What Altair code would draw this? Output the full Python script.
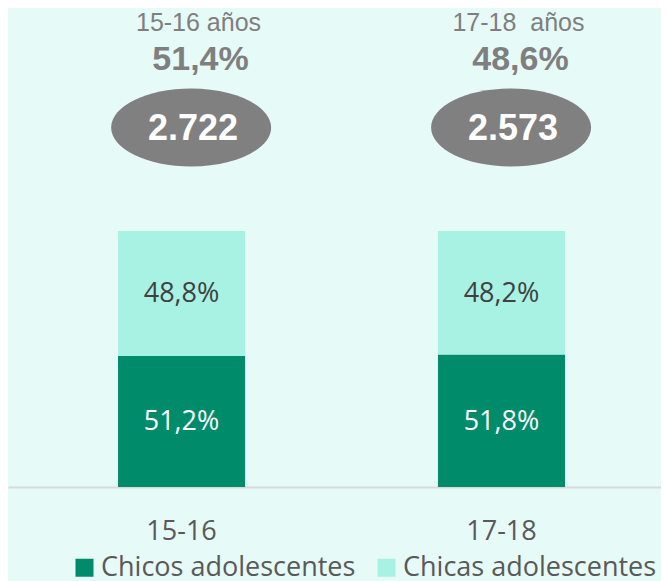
import altair as alt
import pandas as pd

# ---- data ----
groups = ["15-16", "17-18"]
series = ["Chicos adolescentes", "Chicas adolescentes"]
chicos = [51.2, 51.8]
chicas = [48.8, 48.2]
age_labels = ["15-16 años", "17-18 \u00a0años"]
share_labels = ["51,4%", "48,6%"]
total_labels = ["2.722", "2.573"]

# ---- styling ----
BG = "#E6FAF7"
DARK = "#008B6B"
LIGHT = "#A8F2E4"
GRAY = "#7F7F7F"
BODY_FONT = "Open Sans"

rows = []
for g, a, b in zip(groups, chicos, chicas):
    rows.append({"grupo": g, "serie": series[0], "valor": a, "orden": 0})
    rows.append({"grupo": g, "serie": series[1], "valor": b, "orden": 1})
bars_df = pd.DataFrame(rows)
bars_df["etiqueta"] = bars_df["valor"].map(lambda v: f"{v:.1f}".replace(".", ",") + "%")

ann_df = pd.DataFrame({"grupo": groups, "edad": age_labels,
                       "porc": share_labels, "total": total_labels})

x_scale = alt.Scale(domain=groups, paddingInner=0.603, paddingOuter=0.322, align=0.534)
y_scale = alt.Scale(domain=[0, 187.1], nice=False, zero=True)

x_enc = alt.X("grupo:N", scale=x_scale, sort=groups, title=None,
              axis=alt.Axis(domain=True, domainColor="#D9D9D9", domainWidth=2,
                            ticks=False, grid=False, labelAngle=0,
                            labelFont=BODY_FONT, labelFontSize=27, labelColor="#595959",
                            labelBaseline="alphabetic", labelPadding=52))

base = alt.Chart(bars_df).transform_stack(
    stack="valor", groupby=["grupo"], as_=["y0", "y1"],
    sort=[alt.SortField("orden", order="ascending")]
).transform_calculate(mid="(datum.y0 + datum.y1) / 2")

bars = base.mark_bar().encode(
    x=x_enc,
    y=alt.Y("y0:Q", scale=y_scale, axis=None),
    y2="y1:Q",
    color=alt.Color("serie:N", scale=alt.Scale(domain=series, range=[DARK, LIGHT]),
                    legend=alt.Legend(orient="none", legendX=63, legendY=546,
                                      direction="horizontal", title=None,
                                      symbolType="square", symbolSize=324,
                                      symbolStrokeWidth=0, symbolOpacity=1,
                                      labelFont=BODY_FONT, labelFontSize=27,
                                      labelColor="#595959", labelOffset=3,
                                      columnPadding=17, labelLimit=400, padding=0)),
)

bar_text = base.mark_text(font=BODY_FONT, fontSize=27, baseline="middle", dy=1).encode(
    x=x_enc,
    y=alt.Y("mid:Q", scale=y_scale, axis=None),
    text="etiqueta:N",
    color=alt.condition(alt.datum.orden == 0, alt.value("white"), alt.value("#404040")),
)

ann = alt.Chart(ann_df)

# ellipse drawn as a custom symbol, shifted slightly right of the bar centre
ellipse_path = ("M -0.88 0 A 1 0.4875 0 1 0 1.12 0 "
                "A 1 0.4875 0 1 0 -0.88 0 Z")
ellipses = ann.mark_point(shape=ellipse_path, filled=True, fill="#808080",
                          opacity=1, strokeWidth=0, size=25600).encode(
    x=x_enc, y=alt.value(119.5))

age_text = ann.mark_text(font="Liberation Sans", fontSize=25, color=GRAY,
                         baseline="alphabetic", dx=17).encode(
    x=x_enc, y=alt.value(23), text="edad:N")

share_text = ann.mark_text(font="Liberation Sans", fontSize=34, fontWeight="bold",
                           color=GRAY, baseline="alphabetic", dx=19).encode(
    x=x_enc, y=alt.value(62), text="porc:N")

total_text = ann.mark_text(font="Liberation Sans", fontSize=36, fontWeight="bold",
                           color="white", baseline="alphabetic", dx=11.5).encode(
    x=x_enc, y=alt.value(132), text="total:N")

chart = alt.layer(bars, bar_text, ellipses, age_text, share_text, total_text).properties(
    width=653, height=479, background=BG,
    padding={"left": 0, "top": 0, "right": 0, "bottom": 94},
    autosize=alt.AutoSizeParams(type="none"),
).configure_view(stroke=None)

chart.save("out.html", embed_options={"renderer": "svg", "actions": False})
